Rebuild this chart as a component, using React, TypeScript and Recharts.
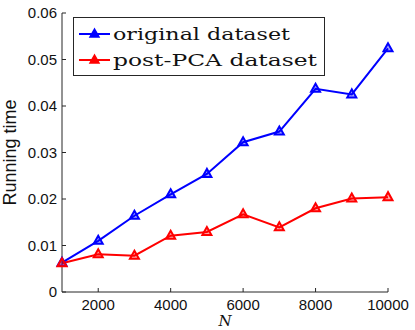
import React from "react"
import { LineChart, Line, XAxis, YAxis, Legend } from "recharts"

const nValues = [1000, 2000, 3000, 4000, 5000, 6000, 7000, 8000, 9000, 10000]
const originalTime = [0.0063, 0.011, 0.0164, 0.021, 0.0254, 0.0322, 0.0345, 0.0437, 0.0425, 0.0524]
const pcaTime = [0.0062, 0.0081, 0.0078, 0.0121, 0.0129, 0.0167, 0.0139, 0.018, 0.0201, 0.0204]
const xTicks = [2000, 4000, 6000, 8000, 10000]
const yTicks = [0, 0.01, 0.02, 0.03, 0.04, 0.05, 0.06]

const series = [
  { key: "original", name: "original dataset", color: "#0000ff", textWidth: 177 },
  { key: "pca", name: "post-PCA dataset", color: "#ff0000", textWidth: 204 },
]

const data = nValues.map((n, i) => ({ n, original: originalTime[i], pca: pcaTime[i] }))

const axisColor = "#262626"
const tickFont = { fontFamily: "Liberation Sans, Arial, sans-serif", fontSize: 15, fill: "#111" }

function triangle(cx: number, cy: number) {
  return `${cx},${cy - 5} ${cx - 4.5},${cy + 3} ${cx + 4.5},${cy + 3}`
}

function makeDot(color: string) {
  return (props: any) => {
    const { cx, cy, index } = props
    if (cx == null || cy == null) return <g key={index} />
    return (
      <polygon
        key={index}
        points={triangle(cx, cy)}
        fill={color}
        fillOpacity={0.35}
        stroke={color}
        strokeWidth={2}
      />
    )
  }
}

function LegendBox() {
  return (
    <svg width={252} height={59} style={{ display: "block" }}>
      <rect x={0.5} y={0.5} width={251} height={58} fill="#fff" stroke={axisColor} strokeWidth={1} />
      {series.map((s, i) => {
        const ly = 17 + i * 26
        return (
          <g key={s.key}>
            <line x1={6} x2={37} y1={ly} y2={ly} stroke={s.color} strokeWidth={2} />
            <polygon points={triangle(21.5, ly)} fill={s.color} stroke={s.color} strokeWidth={1.5} />
            <text
              x={40}
              y={ly + 5.5}
              textLength={s.textWidth}
              lengthAdjust="spacingAndGlyphs"
              style={{ fontFamily: "DejaVu Serif, serif", fontSize: 17, fill: "#111" }}
            >
              {s.name}
            </text>
          </g>
        )
      })}
    </svg>
  )
}

const XTitle = (props: any) => {
  const vb = props.viewBox
  return (
    <text
      x={vb.x + vb.width / 2}
      y={vb.y + 34}
      textAnchor="middle"
      style={{ fontFamily: "DejaVu Serif, serif", fontStyle: "italic", fontSize: 15, fill: "#111" }}
    >
      N
    </text>
  )
}

const YTitle = (props: any) => {
  const vb = props.viewBox
  const x = vb.x + 16
  const y = vb.y + vb.height / 2
  return (
    <text
      x={x}
      y={y}
      textAnchor="middle"
      transform={`rotate(-90 ${x} ${y})`}
      style={{ fontFamily: "Liberation Sans, Arial, sans-serif", fontSize: 18, fill: "#111" }}
    >
      Running time
    </text>
  )
}

export default function App() {
  return (
    <div style={{ position: "absolute", left: 0, top: 0, width: 415, height: 330, background: "#fff" }}>
      <LineChart width={415} height={330} data={data} margin={{ top: 13, right: 27, bottom: 0, left: 0 }}>
        <XAxis
          dataKey="n"
          type="number"
          domain={[1000, 10000]}
          ticks={xTicks}
          height={38}
          tickSize={-4}
          tickMargin={11}
          stroke={axisColor}
          tick={tickFont}
          label={<XTitle />}
        />
        <XAxis
          xAxisId="top"
          dataKey="n"
          type="number"
          orientation="top"
          mirror
          domain={[1000, 10000]}
          ticks={xTicks}
          height={0}
          tickSize={4}
          tick={false}
          stroke={axisColor}
        />
        <YAxis
          type="number"
          domain={[0, 0.06]}
          ticks={yTicks}
          width={62}
          tickSize={-4}
          tickMargin={9}
          stroke={axisColor}
          tick={tickFont}
          label={<YTitle />}
        />
        <YAxis
          yAxisId="right"
          type="number"
          orientation="right"
          mirror
          domain={[0, 0.06]}
          ticks={yTicks}
          width={0}
          tickSize={4}
          tick={false}
          stroke={axisColor}
        />
        <Legend
          layout="horizontal"
          verticalAlign="middle"
          align="center"
          wrapperStyle={{ left: 73, top: 17, width: 252, height: 59 }}
          content={() => <LegendBox />}
        />
        {series.map((s) => (
          <Line
            key={s.key}
            dataKey={s.key}
            name={s.name}
            stroke={s.color}
            strokeWidth={2}
            dot={makeDot(s.color)}
            activeDot={false}
            isAnimationActive={false}
          />
        ))}
      </LineChart>
    </div>
  )
}
